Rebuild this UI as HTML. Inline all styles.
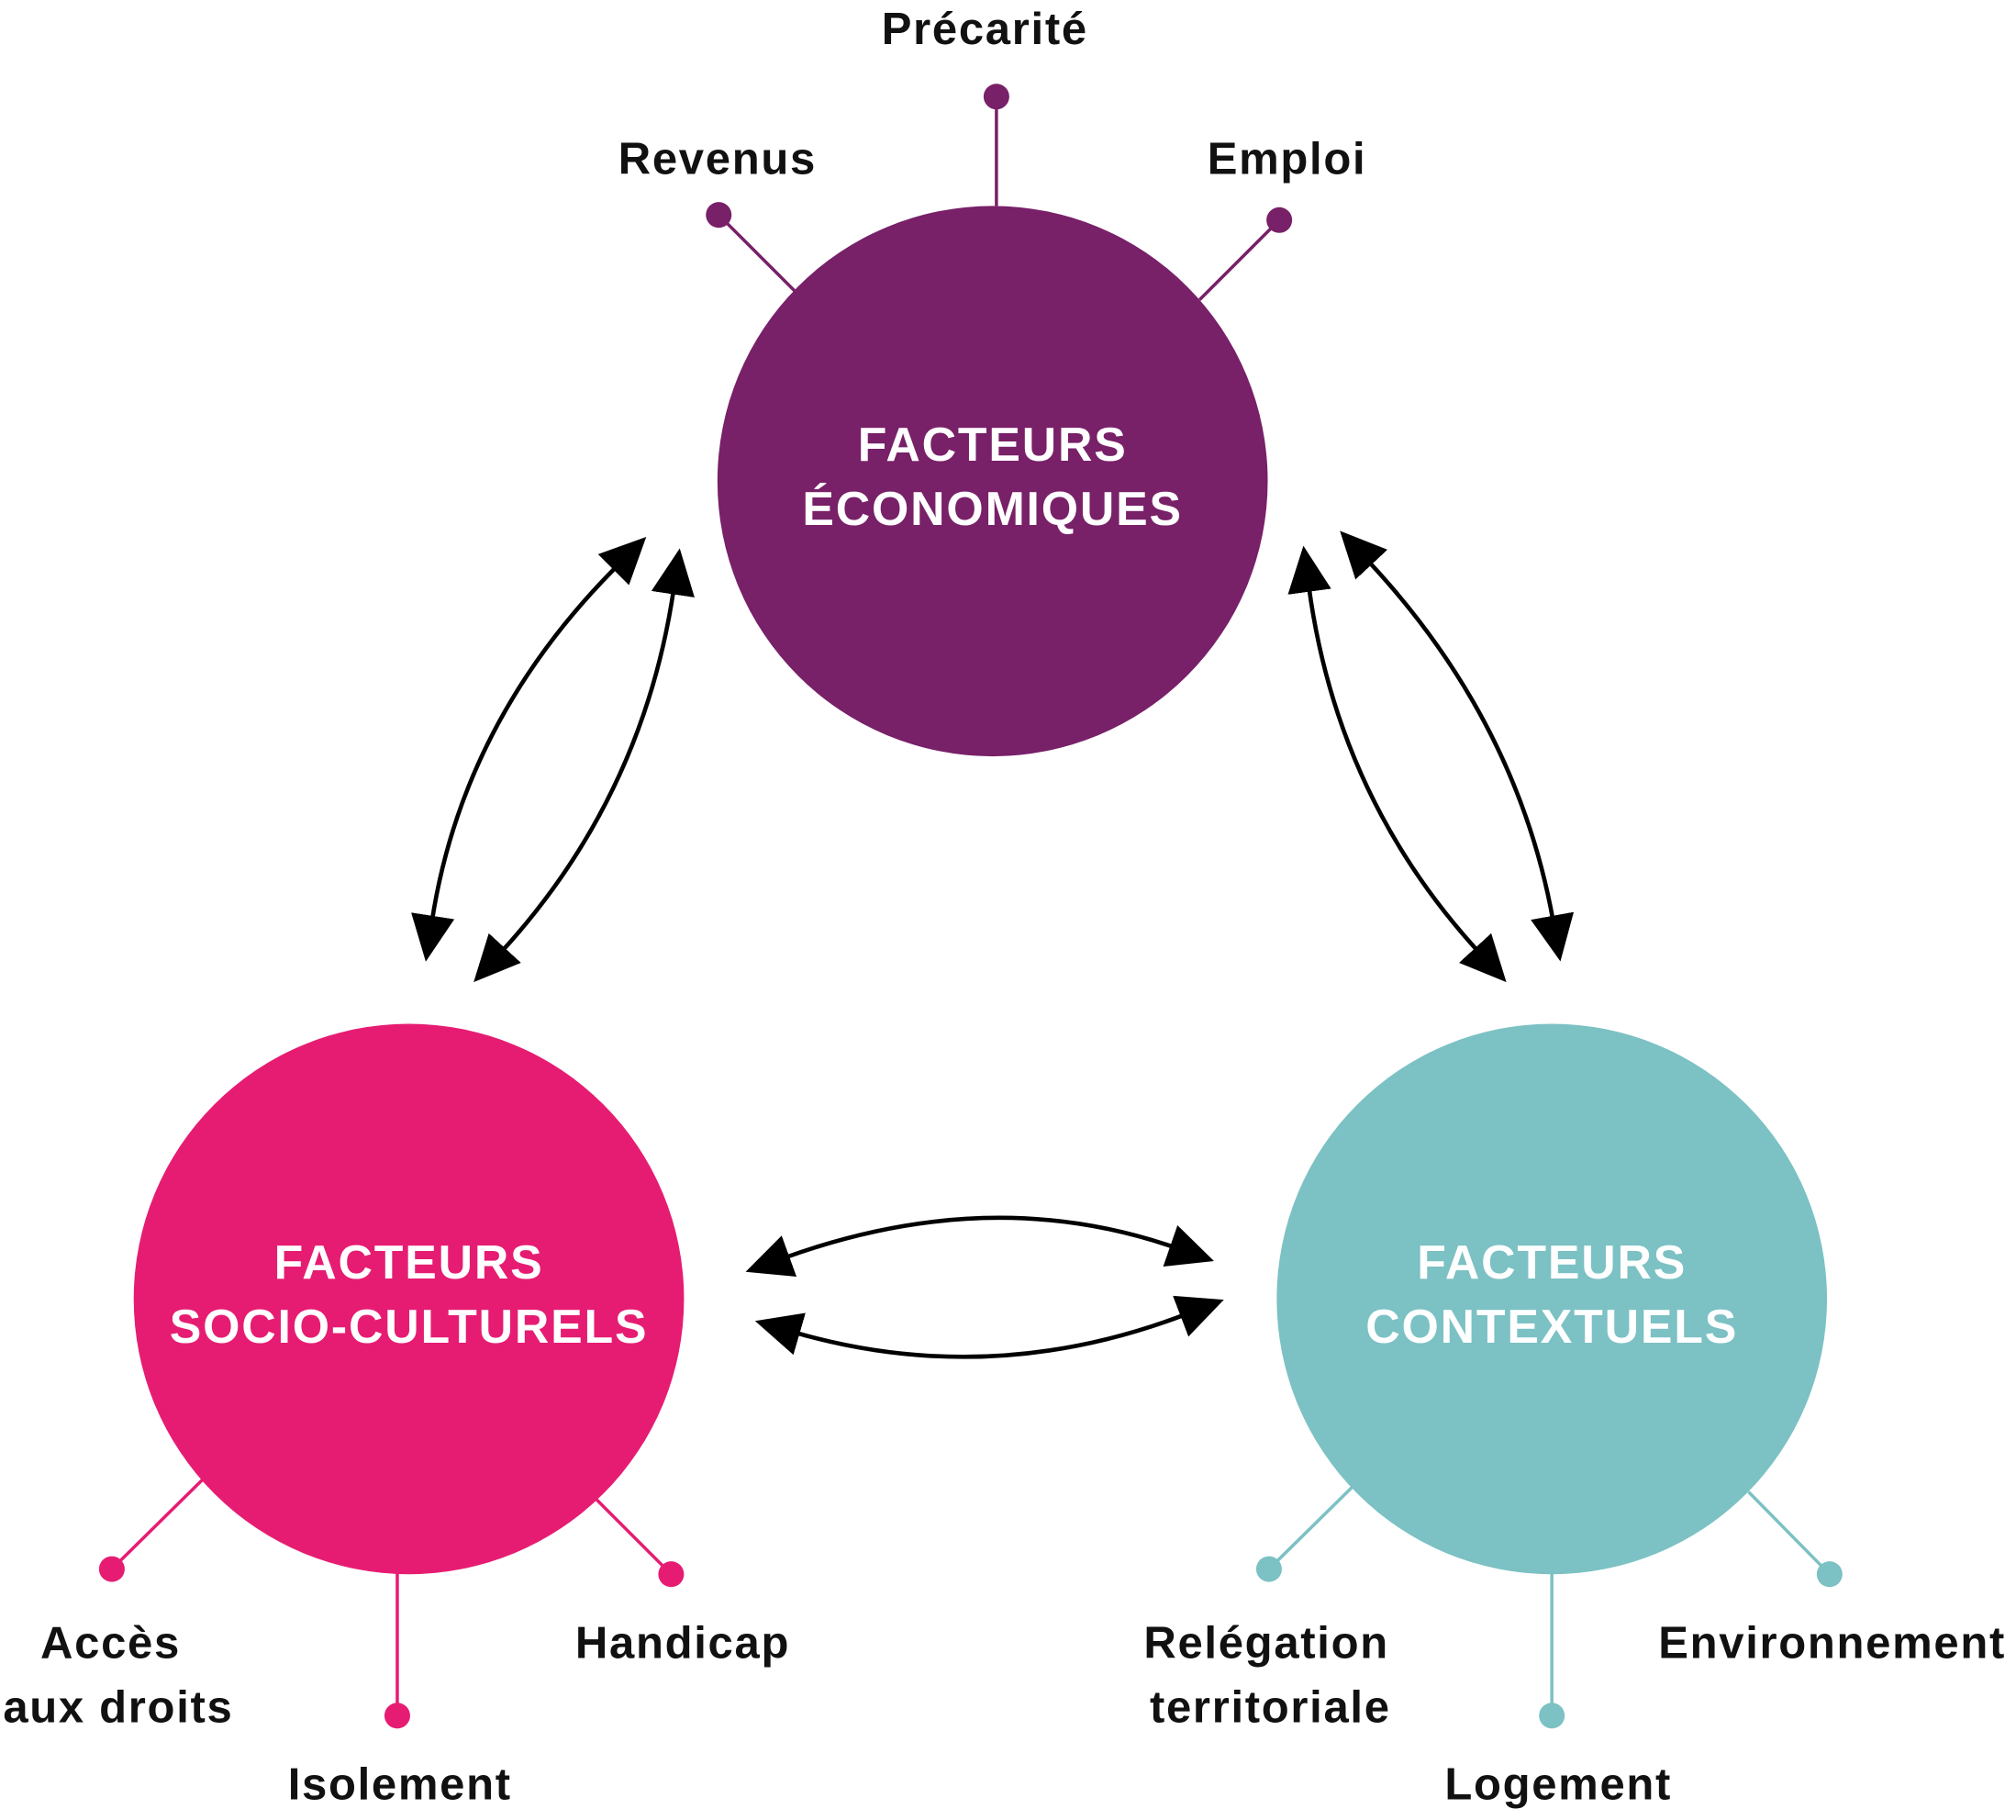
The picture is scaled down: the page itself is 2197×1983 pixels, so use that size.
<!DOCTYPE html>
<html><head><meta charset="utf-8"><style>
html,body{margin:0;padding:0;background:#fff;}
svg{display:block;}
text{font-family:"Liberation Sans",sans-serif;font-weight:bold;}
.w{fill:#fff;font-size:37px;letter-spacing:1.3px;}
.l{fill:#111;font-size:35px;letter-spacing:1.2px;}
</style></head><body>
<svg width="2197" height="1983" viewBox="0 0 1568 1415" xmlns="http://www.w3.org/2000/svg">
<defs>
<marker id="a" markerUnits="userSpaceOnUse" markerWidth="40" markerHeight="34" refX="4" refY="17" orient="auto-start-reverse" viewBox="0 0 40 34">
<path d="M0,0 L36,17 L0,34 Z" fill="#000"/>
</marker>
</defs>
<circle cx="772" cy="374" r="214" fill="#782068"/>
<circle cx="318" cy="1010" r="214" fill="#e61c72"/>
<circle cx="1207" cy="1010" r="214" fill="#7cc1c4"/>
<text class="w" x="772" y="358" text-anchor="middle">FACTEURS</text>
<text class="w" x="772" y="408" text-anchor="middle">ÉCONOMIQUES</text>
<text class="w" x="318" y="994" text-anchor="middle">FACTEURS</text>
<text class="w" x="318" y="1044" text-anchor="middle">SOCIO-CULTURELS</text>
<text class="w" x="1207" y="994" text-anchor="middle">FACTEURS</text>
<text class="w" x="1207" y="1044" text-anchor="middle">CONTEXTUELS</text>
<g stroke="#782068" stroke-width="2.5">
<line x1="775" y1="75" x2="775" y2="160"/>
<line x1="559" y1="167" x2="619" y2="227"/>
<line x1="995" y1="171" x2="933" y2="233"/>
</g>
<g fill="#782068"><circle cx="775" cy="75" r="10"/><circle cx="559" cy="167" r="10"/><circle cx="995" cy="171" r="10"/></g>
<g stroke="#e61c72" stroke-width="2.5">
<line x1="87" y1="1220" x2="158" y2="1150"/>
<line x1="309" y1="1334" x2="309" y2="1222"/>
<line x1="522" y1="1224" x2="463" y2="1165"/>
</g>
<g fill="#e61c72"><circle cx="87" cy="1220" r="10"/><circle cx="309" cy="1334" r="10"/><circle cx="522" cy="1224" r="10"/></g>
<g stroke="#7cc1c4" stroke-width="2.5">
<line x1="987" y1="1220" x2="1052" y2="1156"/>
<line x1="1207" y1="1334" x2="1207" y2="1222"/>
<line x1="1423" y1="1224" x2="1360" y2="1160"/>
</g>
<g fill="#7cc1c4"><circle cx="987" cy="1220" r="10"/><circle cx="1207" cy="1334" r="10"/><circle cx="1423" cy="1224" r="10"/></g>
<text class="l" x="766" y="34" text-anchor="middle">Précarité</text>
<text class="l" x="558" y="135" text-anchor="middle">Revenus</text>
<text class="l" x="1001" y="135" text-anchor="middle">Emploi</text>
<text class="l" x="86" y="1289" text-anchor="middle">Accès</text>
<text class="l" x="92" y="1339" text-anchor="middle">aux droits</text>
<text class="l" x="311" y="1399" text-anchor="middle">Isolement</text>
<text class="l" x="531" y="1289" text-anchor="middle">Handicap</text>
<text class="l" x="985" y="1289" text-anchor="middle">Relégation</text>
<text class="l" x="988" y="1339" text-anchor="middle">territoriale</text>
<text class="l" x="1212" y="1399" text-anchor="middle">Logement</text>
<text class="l" x="1425" y="1289" text-anchor="middle">Environnement</text>
<g fill="none" stroke="#000" stroke-width="3.3" marker-start="url(#a)" marker-end="url(#a)">
<path d="M336,716 Q360,560 480,440"/>
<path d="M390,740 Q500,620 524,458"/>
<path d="M1018,456 Q1040,620 1150,740"/>
<path d="M1064,436 Q1180,560 1208,716"/>
<path d="M610,978 Q770,920 914,970"/>
<path d="M618,1036 Q770,1080 922,1022"/>
</g>
</svg>
</body></html>
